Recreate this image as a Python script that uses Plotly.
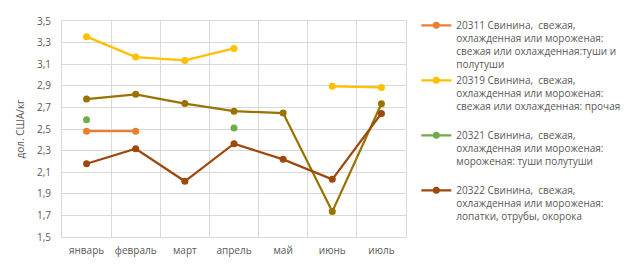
import plotly.graph_objects as go

months = ["январь", "февраль", "март", "апрель", "май", "июнь", "июль"]

s20311 = [2.48, 2.48, None, None, None, None, None]
s20319 = [3.355, 3.166, 3.135, 3.246, None, 2.895, 2.885]
s20321 = [2.585, None, None, 2.51, None, None, None]
s20322 = [2.178, 2.317, 2.016, 2.364, 2.219, 2.034, 2.644]
s_other = [2.777, 2.821, 2.735, 2.665, 2.647, 1.735, 2.733]

names = [
    "20311 Свинина,  свежая,<br>охлажденная или мороженая:<br>свежая или охлажденная:туши и<br>полутуши",
    "20319 Свинина,  свежая,<br>охлажденная или мороженая:<br>свежая или охлажденная: прочая<br> ",
    "20321 Свинина,  свежая,<br>охлажденная или мороженая:<br>мороженая: туши полутуши<br> ",
    "20322 Свинина,  свежая,<br>охлажденная или мороженая:<br>лопатки, отрубы, окорока",
]

fig = go.Figure()

def add(y, name, color, show=True):
    fig.add_trace(go.Scatter(
        x=months, y=y, name=name, mode="lines+markers",
        line=dict(color=color, width=2.25),
        marker=dict(color=color, size=7),
        connectgaps=False, showlegend=show,
    ))

add(s_other, "прочее", "#997300", show=False)
add(s20311, names[0], "#ED7D31")
add(s20319, names[1], "#FFC000")
add(s20321, names[2], "#70AD47")
add(s20322, names[3], "#9E480E")

grid = "#D9D9D9"
fig.update_layout(
    width=637, height=269,
    margin=dict(l=62, r=230, t=13, b=30),
    paper_bgcolor="white", plot_bgcolor="white",
    separators=", ",
    font=dict(family="Open Sans, sans-serif", size=10, color="#595959"),
    legend=dict(
        x=1.03, xanchor="left", y=1.04, yanchor="top",
        font=dict(size=10, color="#595959"),
        tracegroupgap=0, itemwidth=30, valign="top",
        maxheight=265,
    ),
    xaxis=dict(
        type="category", tickson="boundaries", range=[-0.5, 6.5],
        showgrid=True, gridcolor=grid, gridwidth=1,
        showline=True, linecolor=grid, mirror=True,
        ticks="", tickangle=0, ticklabelstandoff=4,
        tickfont=dict(size=10, color="#595959"),
    ),
    yaxis=dict(
        range=[1.5, 3.5], dtick=0.2, tick0=1.5, tickformat=".1f",
        showgrid=True, gridcolor=grid, gridwidth=1,
        showline=True, linecolor=grid, mirror=True,
        zeroline=False, ticks="", ticklabelstandoff=8,
        tickfont=dict(size=10, color="#595959"),
        title=dict(text="дол. США/кг", font=dict(size=10, color="#595959"), standoff=10),
    ),
)

fig.write_html("out.html")
